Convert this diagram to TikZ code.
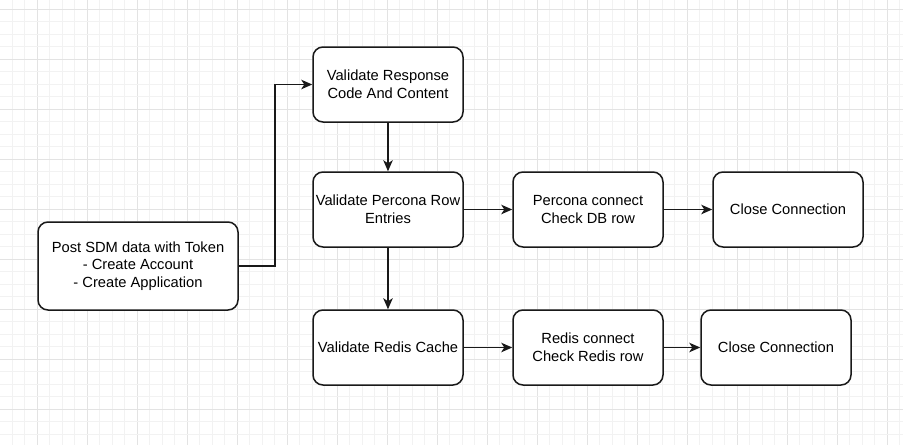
\documentclass[tikz,border=0pt]{standalone}
\usepackage{fontspec}
\setmainfont{Liberation Sans}
\usetikzlibrary{arrows.meta}
\begin{document}
\begin{tikzpicture}[x=1pt,y=-1pt,
  box/.style={draw=black!90, line width=1.5pt, rounded corners=10pt, fill=white,
    align=center, inner sep=0pt, minimum width=150pt, minimum height=75pt,
    font=\fontsize{14.7pt}{17.7pt}\selectfont},
  conn/.style={draw=black!90, line width=1.5pt, -{Stealth[length=11pt,width=9.5pt,inset=3pt]}},
  minorline/.style={draw=black!5, line width=0.8pt},
  majorline/.style={draw=black!11, line width=0.9pt}]
\useasboundingbox (0,0) rectangle (903,445);
\fill[white] (0,0) rectangle (903,445);
% grid
\foreach \k in {0,...,71} {
  \pgfmathsetmacro{\xx}{12.3+12.5*\k}
  \pgfmathtruncatemacro{\m}{mod(\k,4)}
  \ifnum\m=2 \draw[majorline] (\xx,0) -- (\xx,445);
  \else \draw[minorline] (\xx,0) -- (\xx,445); \fi
}
\foreach \k in {0,...,35} {
  \pgfmathsetmacro{\yy}{9.3+12.5*\k}
  \pgfmathtruncatemacro{\m}{mod(\k,4)}
  \ifnum\m=0 \draw[majorline] (0,\yy) -- (903,\yy);
  \else \draw[minorline] (0,\yy) -- (903,\yy); \fi
}
% nodes
\node[box, minimum width=200pt, minimum height=88pt] (post) at (138,266) {Post SDM data with Token\\- Create Account\\- Create Application};
\node[box] (resp) at (388,84.5) {Validate Response\\Code And Content};
\node[box] (perc) at (388,209.5) {Validate Percona Row\\Entries};
\node[box] (pconn) at (588,209.5) {Percona connect\\Check DB row};
\node[box] (close1) at (788,209.5) {Close Connection};
\node[box] (redis) at (388,347.5) {Validate Redis Cache};
\node[box] (rconn) at (588,347.5) {Redis connect\\Check Redis row};
\node[box] (close2) at (776,347.5) {Close Connection};
% connectors
\coordinate (bend1) at (275,266);
\coordinate (bend2) at (275,84.5);
\draw[conn] (post.east) -- (bend1) -- (bend2) -- (resp.west);
\draw[conn] (resp.south) -- (perc.north);
\draw[conn] (perc.south) -- (redis.north);
\draw[conn] (perc.east) -- (pconn.west);
\draw[conn] (pconn.east) -- (close1.west);
\draw[conn] (redis.east) -- (rconn.west);
\draw[conn] (rconn.east) -- (close2.west);
\end{tikzpicture}
\end{document}
